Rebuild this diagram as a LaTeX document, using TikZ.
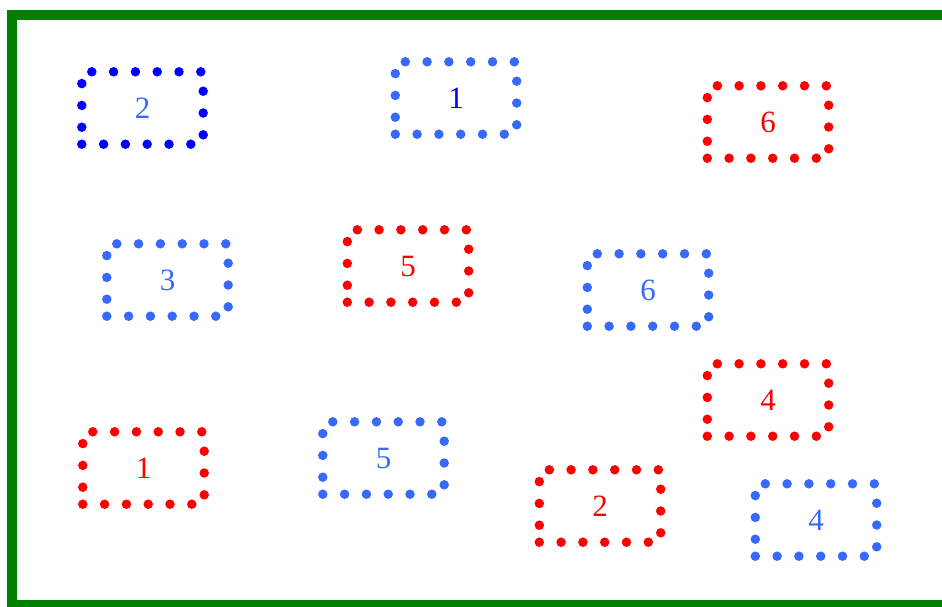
\documentclass[tikz,border=0pt]{standalone}
\usepackage{fontspec}
\setmainfont{Liberation Serif}
\definecolor{lblue}{RGB}{55,105,250}
\definecolor{dblue}{RGB}{0,0,255}
\definecolor{dred}{RGB}{255,0,0}
\tikzset{
  dbox/.style={minimum width=121pt, minimum height=72pt,
    inner sep=0pt, font=\fontsize{31}{31}\selectfont},
  dotline/.style={line width=9.5pt, line cap=round,
    dash pattern=on 0pt off 21.8pt},
}
\newcommand\dotframe[2]{\draw[dotline,#2] (#1.south west)
  -- (#1.south east) -- (#1.north east) -- (#1.north west) -- (#1.south west);}
\begin{document}
\begin{tikzpicture}[x=1pt,y=-1pt]
\useasboundingbox (0,0) rectangle (942,606);
\begin{scope}
\clip (0,0) rectangle (942,606);
\draw[line width=10pt, color={rgb,255:red,0;green,128;blue,0}] (12,15) rectangle (960,605);
\end{scope}
\node[dbox, text=lblue] (b2) at (142.5,108) {2};
\node[dbox, text=dblue] (b1) at (456,98) {1};
\node[dbox, text=dred] (r6) at (768,122) {6};
\node[dbox, text=lblue] (b3) at (167.5,280) {3};
\node[dbox, text=dred] (r5) at (408,266) {5};
\node[dbox, text=lblue] (b6) at (648,290) {6};
\node[dbox, text=dred] (r4) at (768,400) {4};
\node[dbox, text=dred] (r1) at (143.5,468) {1};
\node[dbox, text=lblue] (b5) at (383.5,458) {5};
\node[dbox, text=dred] (r2) at (600,506) {2};
\node[dbox, text=lblue] (b4) at (816,520) {4};
\dotframe{b2}{dblue}
\dotframe{b1}{lblue}
\dotframe{r6}{dred}
\dotframe{b3}{lblue}
\dotframe{r5}{dred}
\dotframe{b6}{lblue}
\dotframe{r4}{dred}
\dotframe{r1}{dred}
\dotframe{b5}{lblue}
\dotframe{r2}{dred}
\dotframe{b4}{lblue}
\end{tikzpicture}
\end{document}
